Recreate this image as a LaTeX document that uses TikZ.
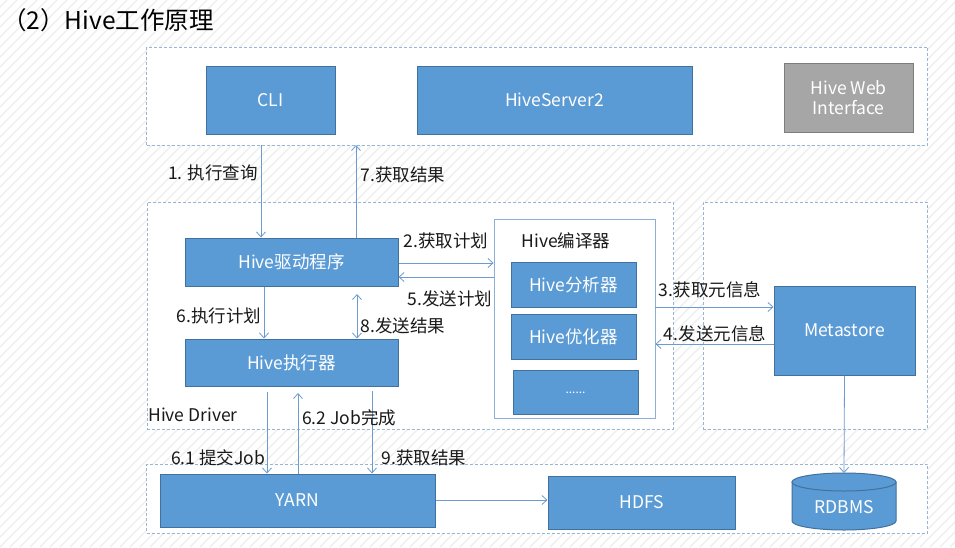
\documentclass[tikz,border=0pt]{standalone}
\usepackage{fontspec}
\setmainfont{Noto Sans CJK SC}
\usetikzlibrary{arrows.meta}
\definecolor{boxblue}{RGB}{91,155,213}
\definecolor{boxedge}{RGB}{65,113,156}
\definecolor{dashc}{RGB}{150,182,212}
\definecolor{arrc}{RGB}{108,155,207}
\definecolor{greyfill}{RGB}{166,166,166}
\definecolor{greyedge}{RGB}{125,125,125}
\definecolor{stripec}{RGB}{237,237,237}
\definecolor{framec}{RGB}{140,175,215}
\begin{document}
\begin{tikzpicture}[x=1pt,y=-1pt,
  bluebox/.style={draw=boxedge, fill=boxblue, line width=1, text=white,
    font=\fontsize{17.5}{20}\selectfont, inner sep=0, align=center},
  greybox/.style={bluebox, draw=greyedge, fill=greyfill},
  dashbox/.style={draw=dashc, fill=white, line width=0.8, dash pattern=on 3pt off 2pt, inner sep=0},
  framebox/.style={draw=framec, fill=white, line width=0.9, inner sep=0},
  lbl/.style={font=\fontsize{17.5}{20}\selectfont, text=black!90, inner sep=0},
  arr/.style={draw=arrc, line width=0.8, -{Straight Barb[length=5,width=9]}},
  arrboth/.style={draw=arrc, line width=0.8, {Straight Barb[length=5,width=9]}-{Straight Barb[length=5,width=9]}},
  stripe/.style={draw=stripec, line width=1.3}
]
\useasboundingbox (0,0) rectangle (955,547);
% background stripes
\begin{scope}
  \clip (0,0) rectangle (955,547);
  \fill[white] (0,0) rectangle (955,547);
  \foreach \i in {-560,-550,...,960} \draw[stripe] (\i,547) -- (\i+547,0);
\end{scope}

% title
\node[font=\fontsize{24.5}{26}\selectfont, anchor=west, inner sep=0] (title) at (2,20) {（2）Hive工作原理};

% dashed frames
\node[dashbox, minimum width=781, minimum height=98] (topbox) at (537,96) {};
\node[dashbox, minimum width=526, minimum height=227] (drvbox) at (410,315.5) {};
\node[dashbox, minimum width=224, minimum height=227] (rightbox) at (815,315.5) {};
\node[dashbox, minimum width=781, minimum height=69] (botbox) at (537,498.5) {};

% top row
\node[bluebox, minimum width=129, minimum height=68] (cli) at (270.5,100) {CLI};
\node[bluebox, minimum width=275, minimum height=68] (hs2) at (554.5,100) {HiveServer2};
\node[greybox, minimum width=129, minimum height=69] (hwi) at (848.5,97.5) {Hive Web\\[0pt]Interface};

% driver
\node[bluebox, minimum width=213, minimum height=48] (drv) at (291.5,262) {Hive驱动程序};
\node[bluebox, minimum width=213, minimum height=47] (exe) at (291.5,362.5) {Hive执行器};

% compiler
\node[framebox, minimum width=161, minimum height=199] (comp) at (574.5,318.5) {};
\node[lbl] (compl) at (566,241) {Hive编译器};
\node[bluebox, minimum width=125, minimum height=45] (ana) at (573.5,284.5) {Hive分析器};
\node[bluebox, minimum width=125, minimum height=45] (opt) at (573.5,336.5) {Hive优化器};
\node[bluebox, minimum width=125, minimum height=44, font=\fontsize{12}{12}\selectfont] (dots) at (575.5,392) {\raisebox{-4pt}{......}};

% metastore
\node[bluebox, minimum width=141, minimum height=89] (meta) at (844.5,330.5) {Metastore};

% bottom row
\node[bluebox, minimum width=275, minimum height=53] (yarn) at (297.5,500.5) {YARN};
\node[bluebox, minimum width=187, minimum height=53] (hdfs) at (641.5,502.5) {HDFS};
\path[fill=boxblue, draw=boxedge, line width=1] (792,482) -- (792,521)
  arc[start angle=180, end angle=0, x radius=52, y radius=9] -- (896,482) -- cycle;
\draw[fill=boxblue, draw=boxedge, line width=1] (844,482) ellipse[x radius=52, y radius=9];
\node[text=white, font=\fontsize{17.5}{20}\selectfont, inner sep=0] (rdbms) at (844,507) {RDBMS};
\coordinate (rdbmstop) at (844,473);

% coordinates for connectors
\coordinate (c1) at (261,145);
\coordinate (c7) at (356,145);
\coordinate (c6) at (264,300);
\coordinate (c8) at (357,294);
\coordinate (c61) at (267,392);
\coordinate (c62) at (298,393);
\coordinate (c9) at (372,391);
\coordinate (r2) at (0,263);
\coordinate (r5) at (0,277);
\coordinate (r3) at (0,307);
\coordinate (r4) at (0,344);
\coordinate (ry) at (0,500);

% connectors
\draw[arr] (c1) -- (c1 |- drv.north);
\draw[arr] (c7 |- drv.north) -- (c7);
\draw[arr] (drv.east |- r2) -- (comp.west |- r2);
\draw[arr] (comp.west |- r5) -- (drv.east |- r5);
\draw[arr] (c6 |- drv.south) -- (c6 |- exe.north);
\draw[arrboth] (c8) -- (c8 |- exe.north);
\draw[arr] (comp.east |- r3) -- (meta.west |- r3);
\draw[arr] (meta.west |- r4) -- (comp.east |- r4);
\draw[arr] (c61) -- (c61 |- yarn.north);
\draw[arr] (c62 |- yarn.north) -- (c62);
\draw[arr] (c9) -- (c9 |- yarn.north);
\draw[arr] (yarn.east |- ry) -- (hdfs.west |- ry);
\draw[arr] (meta.south) -- (rdbmstop);

% labels
\node[lbl] (l1) at (213,173) {1. 执行查询};
\node[lbl] (l7) at (403,175) {7.获取结果};
\node[lbl] (l2) at (446,241) {2.获取计划};
\node[lbl] (l5) at (450,299) {5.发送计划};
\node[lbl] (l6) at (219,316) {6.执行计划};
\node[lbl] (l8) at (403,326) {8.发送结果};
\node[lbl] (l3) at (710,290) {3.获取元信息};
\node[lbl] (l4) at (715,334) {4.发送元信息};
\node[lbl] (ldrv) at (193,415) {Hive Driver};
\node[lbl] (l62) at (349,418) {6.2 Job完成};
\node[lbl] (l61) at (218,458) {6.1 提交Job};
\node[lbl] (l9) at (424,458) {9.获取结果};
\end{tikzpicture}
\end{document}
